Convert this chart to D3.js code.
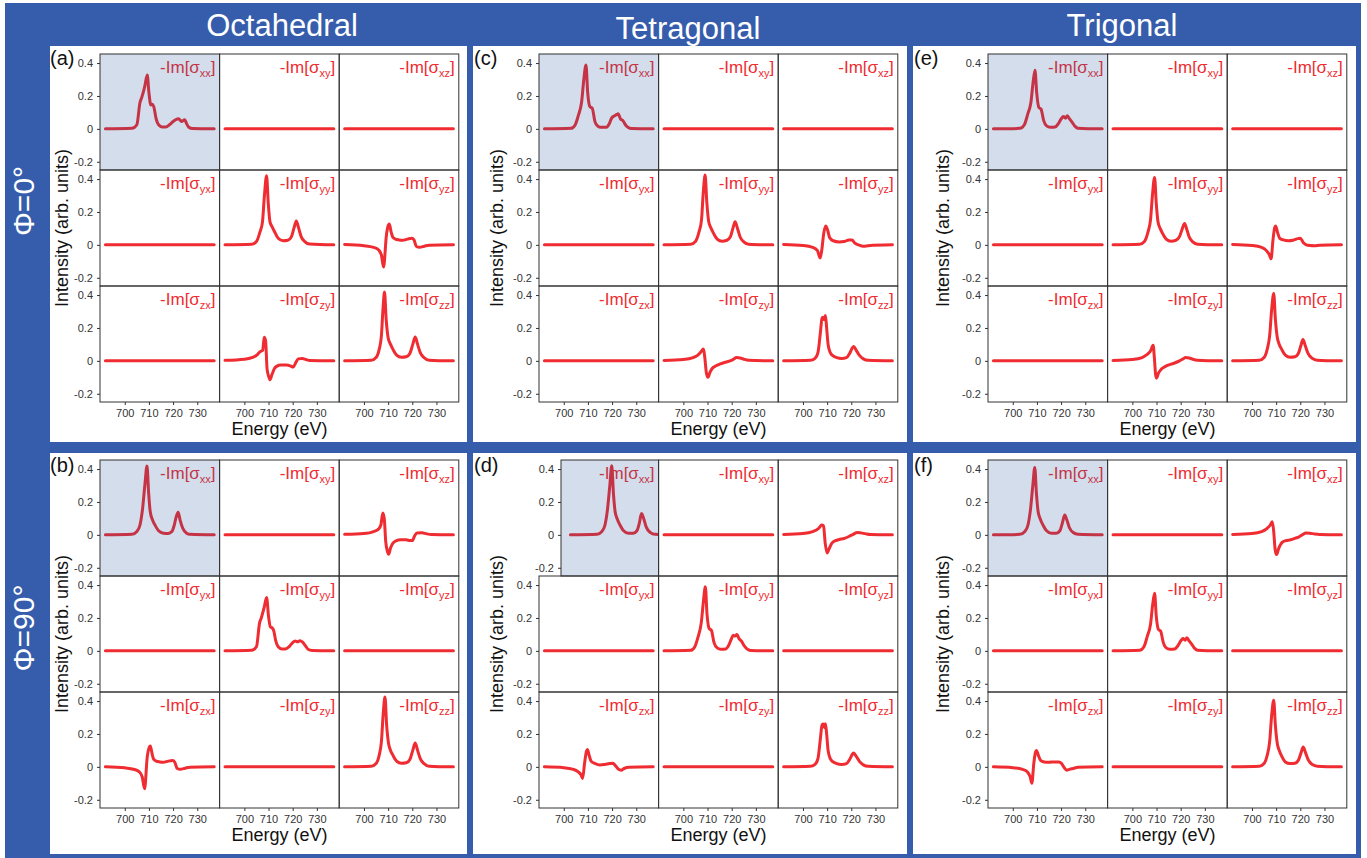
<!DOCTYPE html>
<html>
<head>
<meta charset="utf-8">
<script src="https://cdn.jsdelivr.net/npm/d3@7"></script>
<style>
  body { margin: 0; background: #fff; }
  svg { display: block; }
  text { font-family: "Liberation Sans", Arial, Helvetica, sans-serif; }
</style>
</head>
<body>
<svg id="fig" width="1367" height="858"></svg>
<script>
// ---------- tick labels / categories ----------
const columnTitles = ["Octahedral", "Tetragonal", "Trigonal"];
const rowTitles = ["\u03A6=0\u00B0", "\u03A6=90\u00B0"];
const panelTags = [["(a)", "(c)", "(e)"], ["(b)", "(d)", "(f)"]];
const axesNames = ["x", "y", "z"];
const energyTicks = [700, 710, 720, 730];
const intensityTicks = [0.4, 0.2, 0, -0.2];
const intensityTickText = ["0.4", "0.2", "0", "-0.2"];

// ---------- spectra: [energy (eV), -Im(sigma)] ----------
const flat = [[692, 0], [737, 0]];

// Octahedral, phi = 0
const oct0_xx = [[692,0],[703,0.003],[705,0.025],[706.3,0.16],[707,0.19],[708.3,0.26],[709.3,0.327],[710,0.22],[710.8,0.145],[711.5,0.15],[712,0.135],[713,0.06],[714,0.025],[715.5,0.012],[717,0.012],[718.5,0.025],[720,0.045],[721,0.055],[722.3,0.062],[723.5,0.045],[724.8,0.056],[725.5,0.035],[726.5,0.01],[728,0.002],[737,0]];
const oct0_yy = [[692,0],[703,0.003],[705,0.02],[706.5,0.08],[707.5,0.14],[708.3,0.3],[709.2,0.42],[709.9,0.25],[710.6,0.14],[711.5,0.11],[712.5,0.08],[714,0.04],[716,0.025],[718,0.028],[719.5,0.05],[720.5,0.1],[721.5,0.145],[722.5,0.1],[723.5,0.05],[725,0.02],[727,0.005],[737,0]];
const oct0_yz = [[692,0.002],[700,-0.005],[704,-0.015],[706,-0.03],[707.2,-0.06],[708.1,-0.135],[709.3,0.06],[710.1,0.12],[710.5,0.127],[711.2,0.08],[712,0.045],[713,0.035],[714.5,0.03],[716,0.028],[718,0.035],[719.8,0.04],[720.7,0.03],[721.7,-0.01],[723,-0.015],[725,-0.008],[727,-0.002],[737,0]];
const oct0_zy = [[692,0.003],[700,0.01],[703.7,0.022],[705.5,0.04],[706.5,0.056],[707.6,0.065],[708.2,0.143],[708.8,0.12],[709.4,-0.05],[710.2,-0.1],[710.6,-0.115],[711.5,-0.08],[712.5,-0.045],[713.5,-0.032],[715,-0.025],[717.5,-0.025],[719,-0.03],[720.2,-0.038],[721.3,-0.01],[722.3,0.012],[724,0.015],[725.5,0.008],[727,0.002],[737,0]];
const oct0_zz = [[692,0],[703,0.003],[705,0.02],[706.3,0.07],[707.2,0.15],[707.9,0.32],[708.5,0.418],[709.2,0.25],[710,0.14],[711,0.1],[712,0.07],[713.5,0.035],[715.5,0.022],[717.5,0.025],[719,0.045],[720.2,0.1],[721.2,0.145],[722.2,0.1],[723.3,0.05],[725,0.018],[727,0.004],[737,0]];

// Octahedral, phi = 90
const oct90_xx = [[692,0],[703,0.003],[705,0.02],[706.3,0.06],[707.3,0.15],[708.3,0.3],[709.2,0.418],[709.9,0.25],[710.5,0.145],[711.5,0.09],[712.5,0.06],[714,0.025],[716,0.01],[718,0.008],[719.5,0.02],[720.5,0.06],[721.3,0.11],[722.1,0.138],[722.9,0.09],[724,0.04],[725.6,0.01],[727,0.003],[737,0]];
const oct90_xz = [[692,0.003],[700,0.008],[704,0.02],[706,0.035],[707,0.06],[707.8,0.133],[708.4,0.1],[709,-0.04],[709.7,-0.1],[710.2,-0.118],[711,-0.08],[712,-0.05],[713.5,-0.035],[715,-0.03],[717.5,-0.03],[719,-0.035],[720,-0.035],[721,-0.005],[722,0.012],[724,0.013],[726,0.006],[728,0.002],[737,0]];
const oct90_yy = [[692,0],[703,0.003],[705,0.025],[706.3,0.17],[707,0.2],[708.3,0.27],[709.2,0.325],[710,0.21],[710.8,0.145],[711.5,0.14],[712.2,0.12],[713,0.06],[714,0.025],[715.5,0.012],[717,0.012],[718.5,0.025],[720,0.05],[721,0.06],[722,0.055],[723,0.062],[724,0.055],[725.3,0.03],[726.5,0.008],[728,0.002],[737,0]];
const oct90_zx = [[692,0],[700,-0.006],[704,-0.016],[706,-0.03],[707.2,-0.06],[708.2,-0.133],[709.3,0.06],[710.1,0.118],[710.6,0.127],[711.3,0.08],[712,0.045],[713,0.035],[714.5,0.03],[716,0.028],[718,0.035],[719.8,0.038],[720.7,0.028],[721.7,-0.01],[723,-0.015],[725,-0.008],[727,-0.002],[737,0]];
const oct90_zz = [[692,0],[703,0.003],[705,0.02],[706.3,0.07],[707.2,0.15],[708,0.33],[708.7,0.425],[709.4,0.25],[710.2,0.14],[711,0.1],[712,0.07],[713.5,0.035],[715.5,0.022],[717.5,0.025],[719,0.045],[720.2,0.1],[721.2,0.145],[722.2,0.1],[723.3,0.05],[725,0.018],[727,0.004],[737,0]];

// Tetragonal, phi = 0
const tet0_xx = [[692,0],[703,0.003],[704.7,0.024],[706,0.08],[707.4,0.165],[708.3,0.3],[709.2,0.388],[709.9,0.22],[710.8,0.135],[711.8,0.125],[712.9,0.044],[714,0.018],[715,0.01],[717.7,0.01],[718.8,0.03],[719.8,0.065],[721.1,0.08],[722,0.088],[722.5,0.092],[723.5,0.06],[724.5,0.05],[725.5,0.025],[726.7,0.008],[728,0.002],[737,0]];
const tet0_yy = [[692,0],[703,0.003],[705,0.02],[706.5,0.08],[707.5,0.15],[708.2,0.31],[709,0.424],[709.7,0.26],[710.5,0.14],[711.5,0.1],[712.5,0.07],[714,0.035],[716,0.022],[718,0.028],[719.5,0.05],[720.5,0.1],[721.4,0.14],[722.4,0.1],[723.5,0.048],[725,0.018],[727,0.004],[737,0]];
const tet0_yz = [[692,0.002],[700,-0.004],[704,-0.015],[706,-0.035],[707.1,-0.08],[707.8,-0.03],[708.6,0.07],[709.4,0.115],[710.2,0.09],[711,0.045],[712.5,0.025],[715,0.018],[717,0.02],[719,0.03],[720.3,0.03],[721.5,0.01],[723,0],[725,-0.008],[727,-0.005],[737,0]];
const tet0_zy = [[692,0.002],[700,0.008],[704,0.02],[706,0.035],[707.3,0.055],[708.3,0.072],[708.8,0.03],[709.5,-0.07],[710.2,-0.1],[711,-0.07],[712,-0.045],[713.5,-0.03],[715,-0.02],[717,-0.01],[719,-0.002],[720.5,0.008],[722,0.02],[723.5,0.018],[725,0.01],[727,0.003],[737,0]];
const tet0_zz = [[692,0],[703,0.003],[705,0.015],[706.2,0.05],[707.2,0.17],[707.9,0.26],[708.4,0.265],[708.8,0.25],[709.3,0.275],[709.8,0.2],[710.4,0.1],[711.3,0.05],[712.5,0.03],[714,0.02],[716,0.015],[718,0.02],[719.3,0.045],[720.5,0.08],[721,0.088],[722,0.065],[723.3,0.035],[725,0.012],[727,0.003],[737,0]];

// Tetragonal, phi = 90
const tet90_xx = [[692,0],[703,0.003],[705,0.02],[706.3,0.06],[707.3,0.15],[708.3,0.3],[709.1,0.42],[709.8,0.25],[710.5,0.14],[711.3,0.1],[712.5,0.06],[714,0.025],[716,0.01],[718,0.01],[719.5,0.025],[720.5,0.07],[721.4,0.13],[722.3,0.1],[723.3,0.05],[725,0.015],[727,0.003],[737,0]];
const tet90_xz = [[692,0.002],[700,0.008],[704,0.02],[706.5,0.04],[707.8,0.06],[708.5,0.055],[709.2,-0.05],[710,-0.11],[710.8,-0.085],[712,-0.05],[713.5,-0.035],[715,-0.028],[717,-0.022],[719,-0.01],[721,0.005],[722.5,0.015],[724,0.012],[726,0.006],[728,0.002],[737,0]];
const tet90_yy = [[692,0],[703,0.003],[704.7,0.024],[706,0.08],[707.4,0.17],[708.3,0.3],[709.1,0.39],[709.8,0.22],[710.7,0.135],[711.6,0.125],[712.7,0.05],[714,0.018],[715.5,0.01],[717.5,0.012],[718.8,0.035],[719.8,0.07],[720.6,0.095],[721.4,0.09],[722.2,0.1],[723,0.075],[724,0.06],[725.2,0.03],[726.7,0.008],[728,0.002],[737,0]];
const tet90_zx = [[692,0],[700,-0.005],[704,-0.015],[706,-0.03],[707.2,-0.05],[707.8,-0.07],[708.6,0.02],[709.4,0.095],[709.8,0.105],[710.5,0.07],[711.3,0.035],[713,0.02],[715,0.012],[717,0.015],[719,0.02],[720.3,0.022],[721.5,0.005],[722.7,-0.015],[723.7,-0.02],[725,-0.01],[727,-0.003],[737,0]];
const tet90_zz = [[692,0],[703,0.003],[705,0.015],[706.2,0.05],[707.2,0.17],[707.9,0.255],[708.4,0.26],[708.8,0.24],[709.3,0.262],[709.8,0.2],[710.4,0.1],[711.3,0.05],[712.5,0.03],[714,0.02],[716,0.015],[718,0.02],[719.3,0.045],[720.5,0.078],[721,0.085],[722,0.065],[723.3,0.035],[725,0.012],[727,0.003],[737,0]];

// Trigonal, phi = 0
const tri0_xx = [[692,0],[703,0.003],[704.8,0.025],[706.2,0.09],[707.5,0.16],[708.4,0.28],[709.2,0.357],[709.9,0.22],[710.8,0.13],[711.7,0.12],[712.8,0.05],[714,0.018],[715.5,0.01],[717.5,0.012],[718.8,0.03],[720,0.06],[721,0.075],[721.8,0.065],[722.6,0.08],[723.5,0.06],[724.6,0.04],[725.8,0.015],[727,0.004],[737,0]];
const tri0_yy = [[692,0],[703,0.003],[705,0.02],[706.5,0.08],[707.5,0.15],[708.3,0.3],[709.2,0.41],[709.9,0.25],[710.6,0.14],[711.5,0.1],[712.5,0.07],[714,0.035],[716,0.022],[718,0.028],[719.5,0.05],[720.6,0.095],[721.6,0.13],[722.6,0.09],[723.6,0.045],[725,0.018],[727,0.004],[737,0]];
const tri0_yz = [[692,0.002],[700,-0.004],[704,-0.015],[706,-0.035],[707.2,-0.06],[707.9,-0.085],[708.7,0.03],[709.4,0.105],[709.8,0.115],[710.6,0.075],[711.5,0.04],[713,0.03],[715,0.025],[717,0.028],[719,0.038],[720,0.04],[721.2,0.015],[722.5,0],[724,-0.004],[726,-0.005],[728,-0.002],[737,0]];
const tri0_zy = [[692,0.002],[700,0.008],[704,0.02],[706,0.038],[707.5,0.06],[708.6,0.095],[709.1,0.02],[709.6,-0.08],[710,-0.105],[710.8,-0.075],[712,-0.05],[713.5,-0.035],[716,-0.02],[718,-0.01],[719.5,0],[721,0.012],[722,0.02],[723.5,0.018],[725,0.01],[727,0.004],[737,0]];
const tri0_zz = [[692,0],[703,0.003],[705,0.02],[706.3,0.07],[707.3,0.15],[708.2,0.32],[709,0.41],[709.7,0.25],[710.5,0.14],[711.3,0.1],[712.3,0.07],[713.8,0.035],[715.8,0.022],[717.8,0.025],[719.2,0.045],[720.2,0.09],[721.1,0.13],[722.1,0.09],[723.2,0.045],[725,0.015],[727,0.004],[737,0]];

// Trigonal, phi = 90
const tri90_xx = [[692,0],[703,0.003],[705,0.02],[706.3,0.06],[707.3,0.15],[708.3,0.3],[709.1,0.41],[709.8,0.25],[710.5,0.14],[711.3,0.1],[712.5,0.06],[714,0.025],[716,0.01],[718,0.01],[719.5,0.025],[720.5,0.07],[721.5,0.12],[722.4,0.09],[723.4,0.045],[725,0.014],[727,0.003],[737,0]];
const tri90_xz = [[692,0.002],[700,0.008],[704,0.02],[706.3,0.04],[707.6,0.06],[708.4,0.08],[709,0.02],[709.6,-0.09],[710.2,-0.12],[711,-0.085],[712.5,-0.045],[714,-0.035],[716,-0.03],[718,-0.02],[719.5,-0.012],[721,0.002],[722.3,0.012],[724,0.01],[726,0.005],[728,0.002],[737,0]];
const tri90_yy = [[692,0],[703,0.003],[704.8,0.025],[706.2,0.09],[707.5,0.16],[708.4,0.28],[709.2,0.35],[709.9,0.21],[710.8,0.13],[711.7,0.12],[712.8,0.05],[714,0.018],[715.5,0.01],[717.5,0.012],[718.8,0.03],[720,0.06],[721,0.075],[721.8,0.065],[722.6,0.08],[723.5,0.06],[724.6,0.04],[725.8,0.015],[727,0.004],[737,0]];
const tri90_zx = [[692,0],[700,-0.005],[704,-0.015],[706,-0.03],[707.2,-0.06],[707.9,-0.1],[708.7,0.02],[709.4,0.09],[709.8,0.1],[710.6,0.07],[711.5,0.04],[713,0.03],[715,0.028],[717,0.03],[719,0.03],[720.2,0.02],[721.3,-0.005],[722.3,-0.02],[723.5,-0.015],[725,-0.01],[727,-0.003],[737,0]];
const tri90_zz = [[692,0],[703,0.003],[705,0.02],[706.3,0.07],[707.3,0.15],[708.2,0.32],[709,0.405],[709.7,0.25],[710.5,0.14],[711.3,0.1],[712.3,0.065],[713.8,0.03],[715.8,0.02],[717.8,0.022],[719.2,0.04],[720.3,0.085],[721.2,0.12],[722.2,0.085],[723.3,0.042],[725,0.014],[727,0.004],[737,0]];

// component tables for each panel (missing entries are identically zero)
const spectra = [
  [ // phi = 0
    { xx: oct0_xx, yy: oct0_yy, yz: oct0_yz, zy: oct0_zy, zz: oct0_zz },
    { xx: tet0_xx, yy: tet0_yy, yz: tet0_yz, zy: tet0_zy, zz: tet0_zz },
    { xx: tri0_xx, yy: tri0_yy, yz: tri0_yz, zy: tri0_zy, zz: tri0_zz }
  ],
  [ // phi = 90
    { xx: oct90_xx, xz: oct90_xz, yy: oct90_yy, zx: oct90_zx, zz: oct90_zz },
    { xx: tet90_xx, xz: tet90_xz, yy: tet90_yy, zx: tet90_zx, zz: tet90_zz },
    { xx: tri90_xx, xz: tri90_xz, yy: tri90_yy, zx: tri90_zx, zz: tri90_zz }
  ]
];

// ---------- layout ----------
const BLUE = "#365dab";
const RED = "#ee2c31";
const INK = "#333";
const cellW = 119.6, cellH = 116;
const energyDomain = [689.75, 739.25];
const intensityDomain = [-0.25, 0.455];

const panelBoxX = [[50, 467], [473, 907], [913, 1356]];
const panelBoxY = [[46, 442], [453, 854]];
const plotLeft = [100, 539, 988];
const plotTop = [54, 460];
const yTitleX = [68, 503, 949];
const tagX = [50, 474, 914];
const tagY = [65, 472];
const headerX = [282, 688, 1122];
const headerY = [36, 39, 36];
const rowTitleY = [201, 628];
// the first cell of panel (d) sits further right, with its left part cut off
const cellInset = { "1,1,0,0": { frame: 22, shift: 26 } };

const svg = d3.select("#fig");
const defs = svg.append("defs");

// blue frame
svg.append("rect").attr("x", 5).attr("y", 3).attr("width", 1356).attr("height", 855).attr("fill", BLUE);

// headers
columnTitles.forEach((t, i) => {
  svg.append("text").attr("x", headerX[i]).attr("y", headerY[i])
    .attr("text-anchor", "middle").attr("fill", "#fff")
    .style("font-size", "31px").text(t);
});
rowTitles.forEach((t, r) => {
  svg.append("text")
    .attr("transform", `translate(34,${rowTitleY[r]}) rotate(-90)`)
    .attr("text-anchor", "middle").attr("fill", "#fff")
    .style("font-size", "30px").text(t);
});

const line = d3.line().curve(d3.curveMonotoneX);

for (let r = 0; r < 2; r++) {
  for (let c = 0; c < 3; c++) {
    const g = svg.append("g");
    g.append("rect")
      .attr("x", panelBoxX[c][0]).attr("y", panelBoxY[r][0])
      .attr("width", panelBoxX[c][1] - panelBoxX[c][0])
      .attr("height", panelBoxY[r][1] - panelBoxY[r][0])
      .attr("fill", "#fff");

    g.append("text").attr("x", tagX[c]).attr("y", tagY[r])
      .attr("fill", "#111").style("font-size", "20px").text(panelTags[r][c]);

    const x0 = plotLeft[c], y0 = plotTop[r];
    const table = spectra[r][c];

    for (let i = 0; i < 3; i++) {        // row of the tensor
      for (let j = 0; j < 3; j++) {      // column of the tensor
        const comp = axesNames[i] + axesNames[j];
        const inset = cellInset[`${r},${c},${i},${j}`] || { frame: 0, shift: 0 };
        const left = x0 + j * cellW, top = y0 + i * cellH;
        const fLeft = left + inset.frame, fW = cellW - inset.frame;
        const xs = d3.scaleLinear().domain(energyDomain)
          .range([left + inset.shift, left + inset.shift + cellW]);
        const ys = d3.scaleLinear().domain(intensityDomain).range([top + cellH, top]);
        const clipId = `clip-${r}-${c}-${i}-${j}`;
        defs.append("clipPath").attr("id", clipId).append("rect")
          .attr("x", fLeft).attr("y", top).attr("width", fW).attr("height", cellH);

        const cell = g.append("g");
        const data = table[comp] || flat;

        cell.append("path")
          .attr("clip-path", `url(#${clipId})`)
          .attr("d", line(data.map(d => [xs(d[0]), ys(d[1])])))
          .attr("fill", "none").attr("stroke", RED)
          .attr("stroke-width", 3).attr("stroke-linejoin", "round").attr("stroke-linecap", "round");

        const lab = cell.append("text")
          .attr("x", left + cellW - 4).attr("y", top + 19)
          .attr("text-anchor", "end").attr("fill", RED)
          .style("font-size", "17px");
        lab.append("tspan").text("-Im[\u03C3");
        lab.append("tspan").attr("dy", 4).style("font-size", "11px").text(comp);
        lab.append("tspan").attr("dy", -4).text("]");

        if (comp === "xx") {
          cell.append("rect")
            .attr("x", fLeft).attr("y", top).attr("width", fW).attr("height", cellH)
            .attr("fill", "#23559b").attr("fill-opacity", 0.2);
        }

        // left axis with ticks on the first tensor column
        if (j === 0) {
          const ax = cell.append("g").attr("transform", `translate(${fLeft},0)`)
            .call(d3.axisLeft(ys).tickValues(intensityTicks).tickSize(3).tickPadding(4)
              .tickFormat((d, k) => intensityTickText[k]));
          ax.select(".domain").remove();
          ax.selectAll("line").attr("stroke", INK);
          ax.selectAll("text").attr("fill", INK).style("font-size", "11px")
            .style("font-family", "'Liberation Sans', Arial, sans-serif");
        }
        // bottom axis with ticks on the last tensor row
        if (i === 2) {
          const ax = cell.append("g").attr("transform", `translate(0,${top + cellH})`)
            .call(d3.axisBottom(xs).tickValues(energyTicks).tickSize(3).tickPadding(4).tickFormat(d3.format("d")));
          ax.select(".domain").remove();
          ax.selectAll("line").attr("stroke", INK);
          ax.selectAll("text").attr("fill", INK).style("font-size", "11px")
            .style("font-family", "'Liberation Sans', Arial, sans-serif");
        }

        cell.append("rect")
          .attr("x", fLeft).attr("y", top).attr("width", fW).attr("height", cellH)
          .attr("fill", "none").attr("stroke", INK).attr("stroke-width", 1);
      }
    }

    // axis titles
    g.append("text")
      .attr("transform", `translate(${yTitleX[c]},${y0 + cellH * 1.5}) rotate(-90)`)
      .attr("text-anchor", "middle").attr("fill", "#111")
      .style("font-size", "18px").text("Intensity (arb. units)");
    g.append("text")
      .attr("x", x0 + cellW * 1.5).attr("y", y0 + cellH * 3 + 33)
      .attr("text-anchor", "middle").attr("fill", "#111")
      .style("font-size", "18px").text("Energy (eV)");
  }
}
</script>
</body>
</html>
